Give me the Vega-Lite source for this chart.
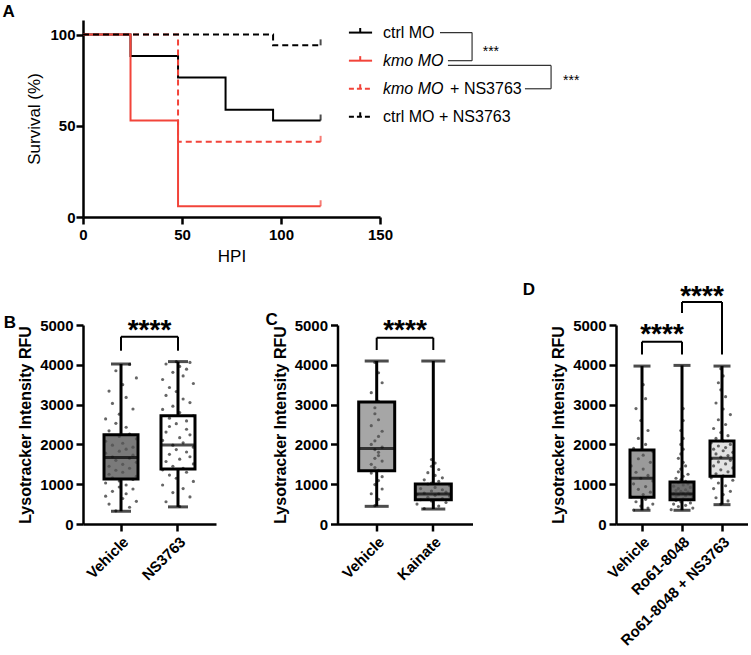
{
"$schema":"https://vega.github.io/schema/vega-lite/v6.json",
"background":"white",
"padding":{"left":2,"top":2,"right":0,"bottom":0},
"config":{"font":"Liberation Sans","view":{"stroke":null},
 "axis":{"grid":false,"domainColor":"#000","domainWidth":2.5,"tickColor":"#000","tickWidth":2.5,"tickSize":7,"labelColor":"#000","titleColor":"#000","labelFontWeight":"bold","labelFontSize":15,"titleFontWeight":"bold","titleFontSize":16,"labelPadding":3,"titlePadding":6,"labelOverlap":false,"labelFlush":false}},
"datasets":{
 "one":[{}],
 "km":[
  {"s":"ctrl MO","t":0,"p":100},{"s":"ctrl MO","t":24,"p":88.2},{"s":"ctrl MO","t":48,"p":76.5},{"s":"ctrl MO","t":72,"p":58.8},{"s":"ctrl MO","t":96,"p":52.9},{"s":"ctrl MO","t":120,"p":52.9},
  {"s":"kmo MO","t":0,"p":100},{"s":"kmo MO","t":24,"p":52.9},{"s":"kmo MO","t":48,"p":5.9},{"s":"kmo MO","t":120,"p":5.9},
  {"s":"kmo MO + NS3763","t":0,"p":100},{"s":"kmo MO + NS3763","t":48,"p":41.2},{"s":"kmo MO + NS3763","t":120,"p":41.2},
  {"s":"ctrl MO + NS3763","t":0,"p":100},{"s":"ctrl MO + NS3763","t":96,"p":94.1},{"s":"ctrl MO + NS3763","t":120,"p":94.1}],
 "bbox":[{"g":"Vehicle","mn":320,"q1":1130,"md":1670,"q3":2240,"mx":4020},{"g":"NS3763","mn":430,"q1":1380,"md":1985,"q3":2720,"mx":4080}],
 "cbox":[{"g":"Vehicle","mn":444,"q1":1338,"md":1897,"q3":3067,"mx":4095},{"g":"Kainate","mn":376,"q1":611,"md":752,"q3":1002,"mx":4095}],
 "dbox":[{"g":"Vehicle","mn":345,"q1":672,"md":1150,"q3":1862,"mx":3968},{"g":"Ro61-8048","mn":345,"q1":611,"md":755,"q3":1057,"mx":3985},{"g":"Ro61-8048 + NS3763","mn":486,"q1":1200,"md":1653,"q3":2088,"mx":3968}],
 "bpts":[
  {"g":"Vehicle","v":330,"k":3},{"g":"Vehicle","v":420,"k":7},{"g":"Vehicle","v":500,"k":1},{"g":"Vehicle","v":570,"k":9},{"g":"Vehicle","v":640,"k":5},{"g":"Vehicle","v":700,"k":0},{"g":"Vehicle","v":760,"k":6},{"g":"Vehicle","v":820,"k":2},{"g":"Vehicle","v":880,"k":8},{"g":"Vehicle","v":930,"k":4},
  {"g":"Vehicle","v":980,"k":6},{"g":"Vehicle","v":1030,"k":0},{"g":"Vehicle","v":1080,"k":4},{"g":"Vehicle","v":1120,"k":8},{"g":"Vehicle","v":1160,"k":2},{"g":"Vehicle","v":1200,"k":9},{"g":"Vehicle","v":1250,"k":1},{"g":"Vehicle","v":1300,"k":5},{"g":"Vehicle","v":1350,"k":3},{"g":"Vehicle","v":1400,"k":7},
  {"g":"Vehicle","v":1450,"k":1},{"g":"Vehicle","v":1500,"k":5},{"g":"Vehicle","v":1550,"k":9},{"g":"Vehicle","v":1600,"k":3},{"g":"Vehicle","v":1650,"k":7},{"g":"Vehicle","v":1690,"k":2},{"g":"Vehicle","v":1730,"k":8},{"g":"Vehicle","v":1780,"k":0},{"g":"Vehicle","v":1830,"k":4},{"g":"Vehicle","v":1880,"k":6},
  {"g":"Vehicle","v":1930,"k":8},{"g":"Vehicle","v":1980,"k":2},{"g":"Vehicle","v":2030,"k":5},{"g":"Vehicle","v":2080,"k":0},{"g":"Vehicle","v":2140,"k":9},{"g":"Vehicle","v":2200,"k":4},{"g":"Vehicle","v":2260,"k":7},{"g":"Vehicle","v":2340,"k":1},{"g":"Vehicle","v":2430,"k":6},{"g":"Vehicle","v":2530,"k":3},
  {"g":"Vehicle","v":2640,"k":0},{"g":"Vehicle","v":2760,"k":4},{"g":"Vehicle","v":2890,"k":8},{"g":"Vehicle","v":3030,"k":2},{"g":"Vehicle","v":3180,"k":6},{"g":"Vehicle","v":3340,"k":1},{"g":"Vehicle","v":3500,"k":5},{"g":"Vehicle","v":3670,"k":9},{"g":"Vehicle","v":3850,"k":3},{"g":"Vehicle","v":4010,"k":7},
  {"g":"NS3763","v":440,"k":5},{"g":"NS3763","v":560,"k":1},{"g":"NS3763","v":680,"k":8},{"g":"NS3763","v":790,"k":3},{"g":"NS3763","v":890,"k":6},{"g":"NS3763","v":980,"k":0},{"g":"NS3763","v":1070,"k":9},{"g":"NS3763","v":1150,"k":4},{"g":"NS3763","v":1230,"k":2},{"g":"NS3763","v":1300,"k":7},
  {"g":"NS3763","v":1360,"k":0},{"g":"NS3763","v":1400,"k":6},{"g":"NS3763","v":1450,"k":3},{"g":"NS3763","v":1510,"k":9},{"g":"NS3763","v":1570,"k":1},{"g":"NS3763","v":1630,"k":5},{"g":"NS3763","v":1690,"k":8},{"g":"NS3763","v":1750,"k":2},{"g":"NS3763","v":1810,"k":7},{"g":"NS3763","v":1870,"k":4},
  {"g":"NS3763","v":1930,"k":9},{"g":"NS3763","v":1980,"k":3},{"g":"NS3763","v":2040,"k":6},{"g":"NS3763","v":2100,"k":0},{"g":"NS3763","v":2170,"k":5},{"g":"NS3763","v":2240,"k":8},{"g":"NS3763","v":2310,"k":1},{"g":"NS3763","v":2380,"k":7},{"g":"NS3763","v":2450,"k":2},{"g":"NS3763","v":2520,"k":4},
  {"g":"NS3763","v":2590,"k":7},{"g":"NS3763","v":2660,"k":2},{"g":"NS3763","v":2720,"k":9},{"g":"NS3763","v":2800,"k":5},{"g":"NS3763","v":2880,"k":0},{"g":"NS3763","v":2960,"k":3},{"g":"NS3763","v":3050,"k":8},{"g":"NS3763","v":3140,"k":6},{"g":"NS3763","v":3230,"k":1},{"g":"NS3763","v":3330,"k":4},
  {"g":"NS3763","v":3430,"k":2},{"g":"NS3763","v":3530,"k":9},{"g":"NS3763","v":3630,"k":0},{"g":"NS3763","v":3720,"k":6},{"g":"NS3763","v":3810,"k":3},{"g":"NS3763","v":3890,"k":7},{"g":"NS3763","v":3960,"k":5},{"g":"NS3763","v":4020,"k":1},{"g":"NS3763","v":4060,"k":8},{"g":"NS3763","v":4080,"k":4}],
 "cpts":[
  {"g":"Vehicle","v":460,"k":4},{"g":"Vehicle","v":620,"k":5},{"g":"Vehicle","v":760,"k":3},{"g":"Vehicle","v":880,"k":6},{"g":"Vehicle","v":990,"k":4},{"g":"Vehicle","v":1090,"k":5},{"g":"Vehicle","v":1190,"k":6},{"g":"Vehicle","v":1280,"k":3},{"g":"Vehicle","v":1350,"k":5},{"g":"Vehicle","v":1420,"k":4},
  {"g":"Vehicle","v":1500,"k":3},{"g":"Vehicle","v":1580,"k":6},{"g":"Vehicle","v":1650,"k":4},{"g":"Vehicle","v":1720,"k":5},{"g":"Vehicle","v":1800,"k":5},{"g":"Vehicle","v":1870,"k":4},{"g":"Vehicle","v":1930,"k":6},{"g":"Vehicle","v":2000,"k":3},{"g":"Vehicle","v":2090,"k":4},{"g":"Vehicle","v":2200,"k":5},
  {"g":"Vehicle","v":2330,"k":6},{"g":"Vehicle","v":2470,"k":3},{"g":"Vehicle","v":2620,"k":5},{"g":"Vehicle","v":2770,"k":4},{"g":"Vehicle","v":2920,"k":4},{"g":"Vehicle","v":3080,"k":5},{"g":"Vehicle","v":3300,"k":3},{"g":"Vehicle","v":3550,"k":6},{"g":"Vehicle","v":3800,"k":5},{"g":"Vehicle","v":4060,"k":4},
  {"g":"Kainate","v":390,"k":2},{"g":"Kainate","v":450,"k":6},{"g":"Kainate","v":500,"k":0},{"g":"Kainate","v":540,"k":8},{"g":"Kainate","v":580,"k":4},{"g":"Kainate","v":610,"k":1},{"g":"Kainate","v":640,"k":7},{"g":"Kainate","v":670,"k":3},{"g":"Kainate","v":700,"k":9},{"g":"Kainate","v":720,"k":5},
  {"g":"Kainate","v":740,"k":0},{"g":"Kainate","v":760,"k":6},{"g":"Kainate","v":780,"k":2},{"g":"Kainate","v":800,"k":8},{"g":"Kainate","v":830,"k":4},{"g":"Kainate","v":860,"k":7},{"g":"Kainate","v":890,"k":1},{"g":"Kainate","v":920,"k":5},{"g":"Kainate","v":960,"k":9},{"g":"Kainate","v":1000,"k":3},
  {"g":"Kainate","v":1030,"k":4},{"g":"Kainate","v":1070,"k":6},{"g":"Kainate","v":1110,"k":2},{"g":"Kainate","v":1160,"k":7},{"g":"Kainate","v":1220,"k":5},{"g":"Kainate","v":1290,"k":3},{"g":"Kainate","v":1370,"k":6},{"g":"Kainate","v":1450,"k":4},{"g":"Kainate","v":1530,"k":5},{"g":"Kainate","v":1620,"k":4}],
 "dpts":[
  {"g":"Vehicle","v":350,"k":1},{"g":"Vehicle","v":400,"k":7},{"g":"Vehicle","v":450,"k":4},{"g":"Vehicle","v":500,"k":9},{"g":"Vehicle","v":560,"k":2},{"g":"Vehicle","v":620,"k":6},{"g":"Vehicle","v":680,"k":0},{"g":"Vehicle","v":740,"k":5},{"g":"Vehicle","v":800,"k":8},{"g":"Vehicle","v":870,"k":3},
  {"g":"Vehicle","v":940,"k":6},{"g":"Vehicle","v":1010,"k":1},{"g":"Vehicle","v":1080,"k":9},{"g":"Vehicle","v":1150,"k":4},{"g":"Vehicle","v":1220,"k":7},{"g":"Vehicle","v":1300,"k":2},{"g":"Vehicle","v":1380,"k":5},{"g":"Vehicle","v":1460,"k":0},{"g":"Vehicle","v":1550,"k":8},{"g":"Vehicle","v":1640,"k":3},
  {"g":"Vehicle","v":1730,"k":5},{"g":"Vehicle","v":1820,"k":9},{"g":"Vehicle","v":1900,"k":1},{"g":"Vehicle","v":2000,"k":6},{"g":"Vehicle","v":2150,"k":3},{"g":"Vehicle","v":2350,"k":7},{"g":"Vehicle","v":2600,"k":4},{"g":"Vehicle","v":2900,"k":2},{"g":"Vehicle","v":3150,"k":6},{"g":"Vehicle","v":3500,"k":5},
  {"g":"Ro61-8048","v":360,"k":0},{"g":"Ro61-8048","v":400,"k":9},{"g":"Ro61-8048","v":440,"k":3},{"g":"Ro61-8048","v":470,"k":6},{"g":"Ro61-8048","v":500,"k":1},{"g":"Ro61-8048","v":530,"k":8},{"g":"Ro61-8048","v":560,"k":4},{"g":"Ro61-8048","v":590,"k":2},{"g":"Ro61-8048","v":610,"k":7},{"g":"Ro61-8048","v":630,"k":5},
  {"g":"Ro61-8048","v":650,"k":0},{"g":"Ro61-8048","v":670,"k":9},{"g":"Ro61-8048","v":690,"k":2},{"g":"Ro61-8048","v":710,"k":6},{"g":"Ro61-8048","v":730,"k":3},{"g":"Ro61-8048","v":750,"k":8},{"g":"Ro61-8048","v":760,"k":1},{"g":"Ro61-8048","v":780,"k":5},{"g":"Ro61-8048","v":800,"k":7},{"g":"Ro61-8048","v":820,"k":4},
  {"g":"Ro61-8048","v":840,"k":2},{"g":"Ro61-8048","v":860,"k":6},{"g":"Ro61-8048","v":890,"k":3},{"g":"Ro61-8048","v":920,"k":8},{"g":"Ro61-8048","v":950,"k":1},{"g":"Ro61-8048","v":980,"k":5},{"g":"Ro61-8048","v":1010,"k":7},{"g":"Ro61-8048","v":1040,"k":3},{"g":"Ro61-8048","v":1070,"k":6},{"g":"Ro61-8048","v":1110,"k":4},
  {"g":"Ro61-8048","v":1150,"k":2},{"g":"Ro61-8048","v":1200,"k":5},{"g":"Ro61-8048","v":1250,"k":7},{"g":"Ro61-8048","v":1310,"k":3},{"g":"Ro61-8048","v":1380,"k":4},{"g":"Ro61-8048","v":1460,"k":6},{"g":"Ro61-8048","v":1550,"k":5},{"g":"Ro61-8048","v":1650,"k":3},{"g":"Ro61-8048","v":1760,"k":4},{"g":"Ro61-8048","v":1880,"k":5},
  {"g":"Ro61-8048","v":2000,"k":4},{"g":"Ro61-8048","v":2150,"k":5},{"g":"Ro61-8048","v":2350,"k":4},{"g":"Ro61-8048","v":2600,"k":5},{"g":"Ro61-8048","v":2900,"k":5},
  {"g":"Ro61-8048 + NS3763","v":500,"k":4},{"g":"Ro61-8048 + NS3763","v":580,"k":7},{"g":"Ro61-8048 + NS3763","v":660,"k":2},{"g":"Ro61-8048 + NS3763","v":740,"k":5},{"g":"Ro61-8048 + NS3763","v":820,"k":8},{"g":"Ro61-8048 + NS3763","v":890,"k":1},{"g":"Ro61-8048 + NS3763","v":960,"k":6},{"g":"Ro61-8048 + NS3763","v":1030,"k":3},{"g":"Ro61-8048 + NS3763","v":1100,"k":9},{"g":"Ro61-8048 + NS3763","v":1160,"k":0},
  {"g":"Ro61-8048 + NS3763","v":1210,"k":5},{"g":"Ro61-8048 + NS3763","v":1260,"k":2},{"g":"Ro61-8048 + NS3763","v":1310,"k":7},{"g":"Ro61-8048 + NS3763","v":1360,"k":4},{"g":"Ro61-8048 + NS3763","v":1410,"k":9},{"g":"Ro61-8048 + NS3763","v":1460,"k":1},{"g":"Ro61-8048 + NS3763","v":1510,"k":6},{"g":"Ro61-8048 + NS3763","v":1560,"k":3},{"g":"Ro61-8048 + NS3763","v":1600,"k":8},{"g":"Ro61-8048 + NS3763","v":1640,"k":0},
  {"g":"Ro61-8048 + NS3763","v":1680,"k":4},{"g":"Ro61-8048 + NS3763","v":1720,"k":7},{"g":"Ro61-8048 + NS3763","v":1760,"k":2},{"g":"Ro61-8048 + NS3763","v":1800,"k":9},{"g":"Ro61-8048 + NS3763","v":1840,"k":5},{"g":"Ro61-8048 + NS3763","v":1880,"k":1},{"g":"Ro61-8048 + NS3763","v":1920,"k":6},{"g":"Ro61-8048 + NS3763","v":1960,"k":3},{"g":"Ro61-8048 + NS3763","v":2000,"k":8},{"g":"Ro61-8048 + NS3763","v":2040,"k":0},
  {"g":"Ro61-8048 + NS3763","v":2090,"k":5},{"g":"Ro61-8048 + NS3763","v":2150,"k":2},{"g":"Ro61-8048 + NS3763","v":2220,"k":7},{"g":"Ro61-8048 + NS3763","v":2300,"k":4},{"g":"Ro61-8048 + NS3763","v":2400,"k":1},{"g":"Ro61-8048 + NS3763","v":2500,"k":6},{"g":"Ro61-8048 + NS3763","v":2620,"k":3},{"g":"Ro61-8048 + NS3763","v":2750,"k":8},{"g":"Ro61-8048 + NS3763","v":2890,"k":5},{"g":"Ro61-8048 + NS3763","v":3040,"k":2},
  {"g":"Ro61-8048 + NS3763","v":3200,"k":6},{"g":"Ro61-8048 + NS3763","v":3370,"k":4},{"g":"Ro61-8048 + NS3763","v":3550,"k":3},{"g":"Ro61-8048 + NS3763","v":3720,"k":5},{"g":"Ro61-8048 + NS3763","v":3900,"k":4}]
},
"concat":[
 {"width":297,"height":197,
  "layer":[
   {"data":{"name":"km"},"mark":{"type":"line","interpolate":"step-after","strokeWidth":2},
    "encoding":{
     "x":{"field":"t","type":"quantitative","scale":{"domain":[0,150],"nice":false},"axis":{"values":[0,50,100,150],"tickCount":10,"title":"HPI","titleFontWeight":"normal","titleFontSize":17}},
     "y":{"field":"p","type":"quantitative","scale":{"domain":[0,108],"nice":false},"axis":{"values":[0,50,100],"tickCount":10,"title":"Survival (%)","titleFontWeight":"normal","titleFontSize":17,"titlePadding":6,"labelPadding":1}},
     "color":{"field":"s","type":"nominal","scale":{"domain":["ctrl MO","kmo MO","kmo MO + NS3763","ctrl MO + NS3763"],"range":["#000000","#f2443a","#f2443a","#000000"]},"legend":null},
     "strokeDash":{"field":"s","type":"nominal","scale":{"domain":["ctrl MO","kmo MO","kmo MO + NS3763","ctrl MO + NS3763"],"range":[[1,0],[1,0],[6,4],[6,4]]},"legend":null}}},
   {"data":{"name":"km"},"transform":[{"filter":"datum.t == 120"}],"mark":{"type":"tick","orient":"vertical","size":6,"thickness":2,"yOffset":-3},
    "encoding":{"x":{"field":"t","type":"quantitative"},"y":{"field":"p","type":"quantitative"},
     "color":{"field":"s","type":"nominal","legend":null}}},
   {"data":{"name":"one"},"mark":{"type":"text","text":"A","fontSize":17,"fontWeight":"bold","align":"center","baseline":"middle"},"encoding":{"x":{"datum":-37.6},"y":{"datum":112.6}}},
   {"data":{"name":"one"},"mark":{"type":"rule","color":"#000","strokeWidth":2},"encoding":{"x":{"datum":134.3},"x2":{"datum":146},"y":{"datum":101.1}}},
   {"data":{"name":"one"},"mark":{"type":"rule","color":"#000","strokeWidth":2},"encoding":{"x":{"datum":140},"y":{"datum":101.1},"y2":{"datum":103.6}}},
   {"data":{"name":"one"},"mark":{"type":"rule","color":"#f2443a","strokeWidth":2},"encoding":{"x":{"datum":134.3},"x2":{"datum":146},"y":{"datum":85.7}}},
   {"data":{"name":"one"},"mark":{"type":"rule","color":"#f2443a","strokeWidth":2},"encoding":{"x":{"datum":140},"y":{"datum":85.7},"y2":{"datum":88.2}}},
   {"data":{"name":"one"},"mark":{"type":"rule","color":"#f2443a","strokeWidth":2,"strokeDash":[5,3]},"encoding":{"x":{"datum":134.3},"x2":{"datum":146},"y":{"datum":70.3}}},
   {"data":{"name":"one"},"mark":{"type":"rule","color":"#f2443a","strokeWidth":2},"encoding":{"x":{"datum":140},"y":{"datum":70.3},"y2":{"datum":72.8}}},
   {"data":{"name":"one"},"mark":{"type":"rule","color":"#000","strokeWidth":2,"strokeDash":[5,3]},"encoding":{"x":{"datum":134.3},"x2":{"datum":146},"y":{"datum":54.9}}},
   {"data":{"name":"one"},"mark":{"type":"rule","color":"#000","strokeWidth":2},"encoding":{"x":{"datum":140},"y":{"datum":54.9},"y2":{"datum":57.4}}},
   {"data":{"name":"one"},"mark":{"type":"text","text":"ctrl MO","fontSize":16,"align":"left","baseline":"middle"},"encoding":{"x":{"datum":151.5},"y":{"datum":101.1}}},
   {"data":{"name":"one"},"mark":{"type":"text","text":"kmo MO","fontSize":16,"fontStyle":"italic","align":"left","baseline":"middle"},"encoding":{"x":{"datum":151.5},"y":{"datum":85.7}}},
   {"data":{"name":"one"},"mark":{"type":"text","text":"kmo MO","fontSize":16,"fontStyle":"italic","align":"left","baseline":"middle"},"encoding":{"x":{"datum":151.5},"y":{"datum":70.3}}},
   {"data":{"name":"one"},"mark":{"type":"text","text":"+ NS3763","fontSize":16,"align":"left","baseline":"middle"},"encoding":{"x":{"datum":185.4},"y":{"datum":70.3}}},
   {"data":{"name":"one"},"mark":{"type":"text","text":"ctrl MO + NS3763","fontSize":16,"align":"left","baseline":"middle"},"encoding":{"x":{"datum":151.5},"y":{"datum":54.9}}},
   {"data":{"name":"one"},"mark":{"type":"rule","color":"#333","strokeWidth":1.2},"encoding":{"x":{"datum":180.3},"x2":{"datum":196.5},"y":{"datum":101.1}}},
   {"data":{"name":"one"},"mark":{"type":"rule","color":"#333","strokeWidth":1.2},"encoding":{"x":{"datum":196.5},"y":{"datum":85.7},"y2":{"datum":101.1}}},
   {"data":{"name":"one"},"mark":{"type":"rule","color":"#333","strokeWidth":1.2},"encoding":{"x":{"datum":184.3},"x2":{"datum":196.5},"y":{"datum":85.7}}},
   {"data":{"name":"one"},"mark":{"type":"rule","color":"#333","strokeWidth":1.2},"encoding":{"x":{"datum":184.3},"x2":{"datum":236.4},"y":{"datum":83.1}}},
   {"data":{"name":"one"},"mark":{"type":"rule","color":"#333","strokeWidth":1.2},"encoding":{"x":{"datum":236.4},"y":{"datum":70.3},"y2":{"datum":83.1}}},
   {"data":{"name":"one"},"mark":{"type":"rule","color":"#333","strokeWidth":1.2},"encoding":{"x":{"datum":223.2},"x2":{"datum":236.4},"y":{"datum":70.3}}},
   {"data":{"name":"one"},"mark":{"type":"text","text":"***","fontSize":14,"align":"center","baseline":"alphabetic"},"encoding":{"x":{"datum":206},"y":{"datum":88.5}}},
   {"data":{"name":"one"},"mark":{"type":"text","text":"***","fontSize":14,"align":"center","baseline":"alphabetic"},"encoding":{"x":{"datum":246.6},"y":{"datum":72.1}}}
  ]},
 {"hconcat":[
  {"width":133,"height":199,
   "layer":[
    {"data":{"name":"bbox"},"mark":{"type":"bar","size":34},
     "encoding":{
      "x":{"field":"g","type":"nominal","title":null,"scale":{"domain":["Vehicle","NS3763"],"paddingInner":0.4,"paddingOuter":0.367},"axis":{"labelAngle":-45}},
      "y":{"field":"q1","type":"quantitative","title":"Lysotracker Intensity RFU","scale":{"domain":[0,5000],"nice":false},"axis":{"values":[0,1000,2000,3000,4000,5000],"tickCount":10,"format":"d"}},
      "y2":{"field":"q3"},
      "fill":{"field":"g","type":"nominal","scale":{"domain":["Vehicle","NS3763"],"range":["#7a7a7a","#ffffff"]},"legend":null}}},
    {"data":{"name":"bpts"},"mark":{"type":"circle","size":10,"color":"#555555","opacity":0.9},
     "encoding":{"x":{"field":"g","type":"nominal","title":null},"xOffset":{"field":"k","type":"nominal","scale":{"domain":[0,1,2,3,4,5,6,7,8,9]}},"y":{"field":"v","type":"quantitative","title":"Lysotracker Intensity RFU"}}},
    {"data":{"name":"bbox"},"mark":{"type":"bar","size":34,"filled":false,"color":"#000","strokeWidth":3},"encoding":{"x":{"field":"g","type":"nominal","title":null},"y":{"field":"q1","type":"quantitative","title":"Lysotracker Intensity RFU"},"y2":{"field":"q3"}}},
    {"data":{"name":"bbox"},"mark":{"type":"rule","color":"#000","strokeWidth":3},"encoding":{"x":{"field":"g","type":"nominal","title":null},"y":{"field":"mn","type":"quantitative","title":"Lysotracker Intensity RFU"},"y2":{"field":"q1"}}},
    {"data":{"name":"bbox"},"mark":{"type":"rule","color":"#000","strokeWidth":3},"encoding":{"x":{"field":"g","type":"nominal","title":null},"y":{"field":"q3","type":"quantitative","title":"Lysotracker Intensity RFU"},"y2":{"field":"mx"}}},
    {"data":{"name":"bbox"},"mark":{"type":"tick","color":"#000","size":20,"thickness":3},"encoding":{"x":{"field":"g","type":"nominal","title":null},"y":{"field":"mn","type":"quantitative","title":"Lysotracker Intensity RFU"}}},
    {"data":{"name":"bbox"},"mark":{"type":"tick","color":"#000","size":20,"thickness":3},"encoding":{"x":{"field":"g","type":"nominal","title":null},"y":{"field":"mx","type":"quantitative","title":"Lysotracker Intensity RFU"}}},
    {"data":{"name":"bbox"},"mark":{"type":"tick","color":"#000","size":34,"thickness":3},"encoding":{"x":{"field":"g","type":"nominal","title":null},"y":{"field":"md","type":"quantitative","title":"Lysotracker Intensity RFU"}}},
    {"data":{"name":"one"},"mark":{"type":"rule","color":"#000","strokeWidth":2},"encoding":{"x":{"datum":"Vehicle"},"x2":{"datum":"NS3763"},"y":{"datum":4706}}},
    {"data":{"name":"one"},"mark":{"type":"rule","color":"#000","strokeWidth":2},"encoding":{"x":{"datum":"Vehicle"},"y":{"datum":4354},"y2":{"datum":4706}}},
    {"data":{"name":"one"},"mark":{"type":"rule","color":"#000","strokeWidth":2},"encoding":{"x":{"datum":"NS3763"},"y":{"datum":4354},"y2":{"datum":4706}}},
    {"data":{"name":"one"},"mark":{"type":"text","text":"****","fontSize":28,"fontWeight":"bold","align":"center","baseline":"alphabetic","dx":28.5},"encoding":{"x":{"datum":"Vehicle"},"y":{"datum":4643}}},
    {"data":{"name":"one"},"mark":{"type":"text","text":"B","fontSize":17,"fontWeight":"bold","align":"center","baseline":"middle","dx":-111},"encoding":{"x":{"datum":"Vehicle"},"y":{"datum":5058}}}
   ]},
  {"width":135,"height":199,
   "layer":[
    {"data":{"name":"cbox"},"mark":{"type":"bar","size":36},
     "encoding":{
      "x":{"field":"g","type":"nominal","title":null,"scale":{"domain":["Vehicle","Kainate"],"paddingInner":0.36,"paddingOuter":0.3725},"axis":{"labelAngle":-45}},
      "y":{"field":"q1","type":"quantitative","title":"Lysotracker Intensity RFU","scale":{"domain":[0,5000],"nice":false},"axis":{"values":[0,1000,2000,3000,4000,5000],"tickCount":10,"format":"d"}},
      "y2":{"field":"q3"},
      "fill":{"field":"g","type":"nominal","scale":{"domain":["Vehicle","Kainate"],"range":["#a6a6a6","#8c8c8c"]},"legend":null}}},
    {"data":{"name":"cpts"},"mark":{"type":"circle","size":10,"color":"#555555","opacity":0.9},
     "encoding":{"x":{"field":"g","type":"nominal","title":null},"xOffset":{"field":"k","type":"nominal","scale":{"domain":[0,1,2,3,4,5,6,7,8,9]}},"y":{"field":"v","type":"quantitative","title":"Lysotracker Intensity RFU"}}},
    {"data":{"name":"cbox"},"mark":{"type":"bar","size":36,"filled":false,"color":"#000","strokeWidth":3},"encoding":{"x":{"field":"g","type":"nominal","title":null},"y":{"field":"q1","type":"quantitative","title":"Lysotracker Intensity RFU"},"y2":{"field":"q3"}}},
    {"data":{"name":"cbox"},"mark":{"type":"rule","color":"#000","strokeWidth":3},"encoding":{"x":{"field":"g","type":"nominal","title":null},"y":{"field":"mn","type":"quantitative","title":"Lysotracker Intensity RFU"},"y2":{"field":"q1"}}},
    {"data":{"name":"cbox"},"mark":{"type":"rule","color":"#000","strokeWidth":3},"encoding":{"x":{"field":"g","type":"nominal","title":null},"y":{"field":"q3","type":"quantitative","title":"Lysotracker Intensity RFU"},"y2":{"field":"mx"}}},
    {"data":{"name":"cbox"},"mark":{"type":"tick","color":"#000","size":24,"thickness":3},"encoding":{"x":{"field":"g","type":"nominal","title":null},"y":{"field":"mn","type":"quantitative","title":"Lysotracker Intensity RFU"}}},
    {"data":{"name":"cbox"},"mark":{"type":"tick","color":"#000","size":24,"thickness":3},"encoding":{"x":{"field":"g","type":"nominal","title":null},"y":{"field":"mx","type":"quantitative","title":"Lysotracker Intensity RFU"}}},
    {"data":{"name":"cbox"},"mark":{"type":"tick","color":"#000","size":36,"thickness":3},"encoding":{"x":{"field":"g","type":"nominal","title":null},"y":{"field":"md","type":"quantitative","title":"Lysotracker Intensity RFU"}}},
    {"data":{"name":"one"},"mark":{"type":"rule","color":"#000","strokeWidth":2},"encoding":{"x":{"datum":"Vehicle"},"x2":{"datum":"Kainate"},"y":{"datum":4680}}},
    {"data":{"name":"one"},"mark":{"type":"rule","color":"#000","strokeWidth":2},"encoding":{"x":{"datum":"Vehicle"},"y":{"datum":4371},"y2":{"datum":4680}}},
    {"data":{"name":"one"},"mark":{"type":"rule","color":"#000","strokeWidth":2},"encoding":{"x":{"datum":"Kainate"},"y":{"datum":4371},"y2":{"datum":4680}}},
    {"data":{"name":"one"},"mark":{"type":"text","text":"****","fontSize":28,"fontWeight":"bold","align":"center","baseline":"alphabetic","dx":28.3},"encoding":{"x":{"datum":"Vehicle"},"y":{"datum":4637}}},
    {"data":{"name":"one"},"mark":{"type":"text","text":"C","fontSize":17,"fontWeight":"bold","align":"center","baseline":"middle","dx":-105},"encoding":{"x":{"datum":"Vehicle"},"y":{"datum":5130}}}
   ]},
  {"width":132,"height":199,
   "layer":[
    {"data":{"name":"dbox"},"mark":{"type":"bar","size":24},
     "encoding":{
      "x":{"field":"g","type":"nominal","title":null,"scale":{"domain":["Vehicle","Ro61-8048","Ro61-8048 + NS3763"],"paddingInner":0.4,"paddingOuter":0.35},"axis":{"labelAngle":-45}},
      "y":{"field":"q1","type":"quantitative","title":"Lysotracker Intensity RFU","scale":{"domain":[0,5000],"nice":false},"axis":{"values":[0,1000,2000,3000,4000,5000],"tickCount":10,"format":"d"}},
      "y2":{"field":"q3"},
      "fill":{"field":"g","type":"nominal","scale":{"domain":["Vehicle","Ro61-8048","Ro61-8048 + NS3763"],"range":["#9a9a9a","#6e6e6e","#e3e3e3"]},"legend":null}}},
    {"data":{"name":"dpts"},"mark":{"type":"circle","size":10,"color":"#555555","opacity":0.9},
     "encoding":{"x":{"field":"g","type":"nominal","title":null},"xOffset":{"field":"k","type":"nominal","scale":{"domain":[0,1,2,3,4,5,6,7,8,9]}},"y":{"field":"v","type":"quantitative","title":"Lysotracker Intensity RFU"}}},
    {"data":{"name":"dbox"},"mark":{"type":"bar","size":24,"filled":false,"color":"#000","strokeWidth":3},"encoding":{"x":{"field":"g","type":"nominal","title":null},"y":{"field":"q1","type":"quantitative","title":"Lysotracker Intensity RFU"},"y2":{"field":"q3"}}},
    {"data":{"name":"dbox"},"mark":{"type":"rule","color":"#000","strokeWidth":3},"encoding":{"x":{"field":"g","type":"nominal","title":null},"y":{"field":"mn","type":"quantitative","title":"Lysotracker Intensity RFU"},"y2":{"field":"q1"}}},
    {"data":{"name":"dbox"},"mark":{"type":"rule","color":"#000","strokeWidth":3},"encoding":{"x":{"field":"g","type":"nominal","title":null},"y":{"field":"q3","type":"quantitative","title":"Lysotracker Intensity RFU"},"y2":{"field":"mx"}}},
    {"data":{"name":"dbox"},"mark":{"type":"tick","color":"#000","size":17,"thickness":3},"encoding":{"x":{"field":"g","type":"nominal","title":null},"y":{"field":"mn","type":"quantitative","title":"Lysotracker Intensity RFU"}}},
    {"data":{"name":"dbox"},"mark":{"type":"tick","color":"#000","size":17,"thickness":3},"encoding":{"x":{"field":"g","type":"nominal","title":null},"y":{"field":"mx","type":"quantitative","title":"Lysotracker Intensity RFU"}}},
    {"data":{"name":"dbox"},"mark":{"type":"tick","color":"#000","size":24,"thickness":3},"encoding":{"x":{"field":"g","type":"nominal","title":null},"y":{"field":"md","type":"quantitative","title":"Lysotracker Intensity RFU"}}},
    {"data":{"name":"one"},"mark":{"type":"rule","color":"#000","strokeWidth":2},"encoding":{"x":{"datum":"Vehicle"},"x2":{"datum":"Ro61-8048"},"y":{"datum":4580}}},
    {"data":{"name":"one"},"mark":{"type":"rule","color":"#000","strokeWidth":2},"encoding":{"x":{"datum":"Vehicle"},"y":{"datum":4260},"y2":{"datum":4580}}},
    {"data":{"name":"one"},"mark":{"type":"rule","color":"#000","strokeWidth":2},"encoding":{"x":{"datum":"Ro61-8048"},"y":{"datum":4260},"y2":{"datum":4580}}},
    {"data":{"name":"one"},"mark":{"type":"rule","color":"#000","strokeWidth":2},"encoding":{"x":{"datum":"Ro61-8048"},"x2":{"datum":"Ro61-8048 + NS3763"},"y":{"datum":5578}}},
    {"data":{"name":"one"},"mark":{"type":"rule","color":"#000","strokeWidth":2},"encoding":{"x":{"datum":"Ro61-8048"},"y":{"datum":5302},"y2":{"datum":5578}}},
    {"data":{"name":"one"},"mark":{"type":"rule","color":"#000","strokeWidth":2},"encoding":{"x":{"datum":"Ro61-8048 + NS3763"},"y":{"datum":4260},"y2":{"datum":5578}}},
    {"data":{"name":"one"},"mark":{"type":"text","text":"****","fontSize":28,"fontWeight":"bold","align":"center","baseline":"alphabetic","dx":20},"encoding":{"x":{"datum":"Vehicle"},"y":{"datum":4548}}},
    {"data":{"name":"one"},"mark":{"type":"text","text":"****","fontSize":28,"fontWeight":"bold","align":"center","baseline":"alphabetic","dx":20},"encoding":{"x":{"datum":"Ro61-8048"},"y":{"datum":5510}}},
    {"data":{"name":"one"},"mark":{"type":"text","text":"D","fontSize":17,"fontWeight":"bold","align":"center","baseline":"middle","dx":-113},"encoding":{"x":{"datum":"Vehicle"},"y":{"datum":5887}}}
   ]}
  ],
  "spacing":49.5,
  "resolve":{"scale":{"fill":"independent","xOffset":"independent"}}}
],
"columns":1,
"align":"none",
"spacing":16,
"resolve":{"scale":{"color":"independent","fill":"independent","strokeDash":"independent","xOffset":"independent"}}
}
